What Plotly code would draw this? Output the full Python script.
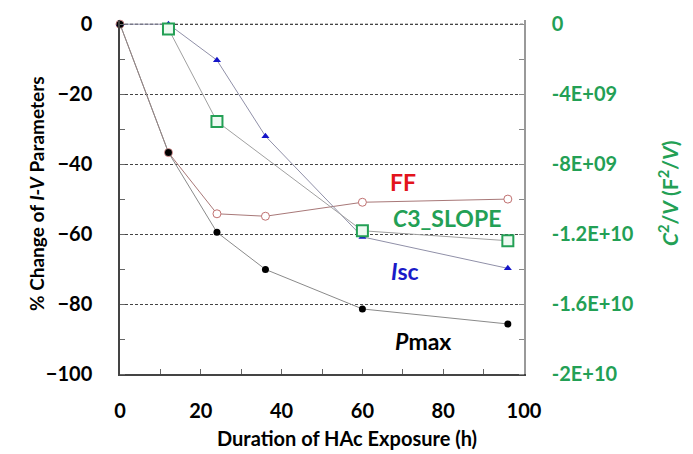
import plotly.graph_objects as go

# Data
hours = [0, 12, 24, 36, 60, 96]
pmax = [0, -36.7, -59.5, -70.1, -81.4, -85.7]
ff = [0, -36.7, -54.2, -54.9, -50.9, -50.0]
isc = [0, 0, -10.3, -32.0, -60.8, -69.8]
c3_hours = [12, 24, 60, 96]
c3_slope = [-2.7e8, -5.56e9, -1.181e10, -1.238e10]

y_ticks = [0, -20, -40, -60, -80, -100]
y2_tickvals = [0, -4e9, -8e9, -1.2e10, -1.6e10, -2e10]
y2_ticktext = ["0", "-4E+09", "-8E+09", "-1.2E+10", "-1.6E+10", "-2E+10"]
x_ticks = [0, 20, 40, 60, 80, 100]

GREEN = "#23a055"
FONT = "Lato"

fig = go.Figure()

fig.add_trace(go.Scatter(
    x=hours, y=ff, mode="lines+markers", name="FF",
    line=dict(color="#a87878", width=1),
    marker=dict(symbol="circle", size=8, color="white",
                line=dict(color="#c07070", width=1)),
    cliponaxis=False,
))
fig.add_trace(go.Scatter(
    x=hours, y=isc, mode="lines+markers", name="Isc",
    line=dict(color="#9090a8", width=1),
    marker=dict(symbol="triangle-up", size=7, color="#1414c8",
                line=dict(width=0)),
    cliponaxis=False,
))
fig.add_trace(go.Scatter(
    x=hours, y=pmax, mode="lines+markers", name="Pmax",
    line=dict(color="#8a8a8a", width=1),
    marker=dict(symbol="circle", size=7, color="black"),
    cliponaxis=False,
))
fig.add_trace(go.Scatter(
    x=c3_hours, y=c3_slope, yaxis="y2", mode="lines+markers", name="C3_SLOPE",
    line=dict(color="#a0a0a0", width=1),
    marker=dict(symbol="square", size=11, color="#eefaf2",
                line=dict(color=GREEN, width=2)),
    cliponaxis=False,
))

# dashed reference line at y = 0 (top gridline in the original)
fig.add_hline(y=y_ticks[0], line=dict(color="#444", width=1, dash="3px,2px"), layer="below")

T, B = 20, 80
fig.update_layout(
    width=693, height=454,
    margin=dict(l=120, r=169, t=T, b=B),
    paper_bgcolor="white", plot_bgcolor="white",
    showlegend=False,
    font=dict(family=FONT, color="black"),
    xaxis=dict(
        range=[0, 100], tickvals=x_ticks, showgrid=False, zeroline=False,
        showline=True, linecolor="#444", linewidth=1.5,
        ticks="inside", ticklen=5, tickcolor="#666", ticklabelstandoff=18,
        tickfont=dict(family=FONT, size=20, weight="bold", color="black"),
        minor=dict(dtick=10, ticks="inside", ticklen=5, tickcolor="#666", showgrid=False),
    ),
    yaxis=dict(
        range=[-100, 1.2], tickvals=y_ticks, zeroline=False,
        showgrid=True, gridcolor="#444", gridwidth=1, griddash="3px,2px",
        showline=True, linecolor="#444", linewidth=1.5,
        ticks="", ticklabelstandoff=22,
        tickfont=dict(family=FONT, size=20, weight="bold", color="black"),
        minor=dict(dtick=10, ticks="inside", ticklen=5, tickcolor="#666", showgrid=False),
    ),
    yaxis2=dict(
        range=[-2e10, 2.4e8], overlaying="y", side="right",
        tickvals=y2_tickvals, ticktext=y2_ticktext,
        showgrid=False, zeroline=False,
        showline=True, linecolor="#999", linewidth=1.5,
        ticks="", ticklabelstandoff=22,
        tickfont=dict(family=FONT, size=20, weight="bold", color=GREEN),
        minor=dict(dtick=2e9, ticks="inside", ticklen=5, tickcolor="#888", showgrid=False),
    ),
)

ann = [
    dict(text="% Change of <i>I-V</i> Parameters", x=36, y=194, angle=-90, size=19, color="black"),
    dict(text="<i>C</i><sup>2</sup>/<i>V</i> (F<sup>2</sup>/<i>V</i>)", x=668, y=193, angle=-90, size=21, color=GREEN),
    dict(text="Duration of HAc Exposure (h)", x=347, y=438, angle=0, size=20, color="black"),
    dict(text="FF", x=403, y=182, angle=0, size=23, color="#e3141c"),
    dict(text="<i>C</i>3_SLOPE", x=447, y=218, angle=0, size=23, color=GREEN),
    dict(text="<i>I</i>sc", x=405, y=271, angle=0, size=23, color="#1a1ac8"),
    dict(text="<i>P</i>max", x=423, y=341, angle=0, size=23, color="black"),
]
for a in ann:
    fig.add_annotation(
        text=a["text"], xref="paper", yref="paper",
        x=(a["x"] - 120) / (693 - 120 - 169),
        y=1 - (a["y"] - T) / (454 - T - B),
        xanchor="center", yanchor="middle", showarrow=False, textangle=a["angle"],
        font=dict(family=FONT, size=a["size"], color=a["color"], weight="bold"),
    )

fig.write_html("out.html")
